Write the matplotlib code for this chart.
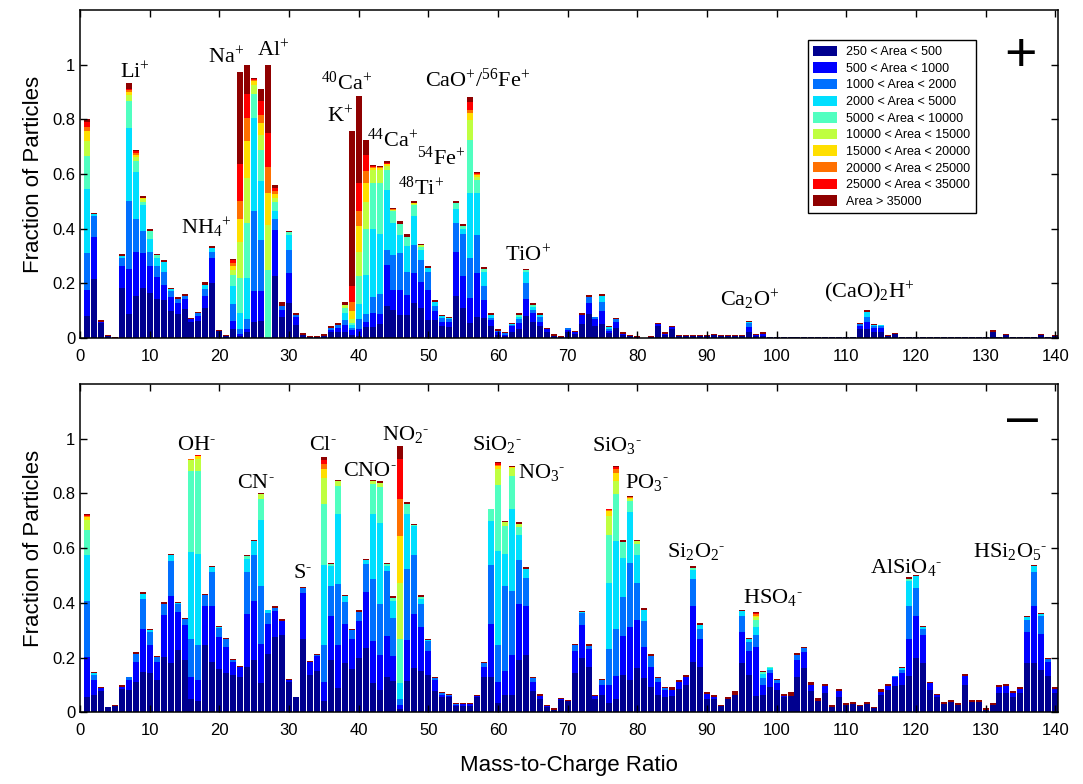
import numpy as np
import matplotlib
matplotlib.use('Agg')
import matplotlib.pyplot as plt
from matplotlib.patches import Patch

plt.rcParams['mathtext.fontset'] = 'custom'
plt.rcParams['mathtext.rm'] = 'Liberation Serif'
plt.rcParams['mathtext.it'] = 'Liberation Serif:italic'
plt.rcParams['font.family'] = ['Liberation Sans', 'DejaVu Sans']

area_bins = ['250 < Area < 500', '500 < Area < 1000', '1000 < Area < 2000',
             '2000 < Area < 5000', '5000 < Area < 10000', '10000 < Area < 15000',
             '15000 < Area < 20000', '20000 < Area < 25000', '25000 < Area < 35000',
             'Area > 35000']
bin_colors = ['#00008F', '#0000FF', '#0070FF', '#00DFFF', '#50FFC0',
              '#BFFF40', '#FFDF00', '#FF7000', '#FF0000', '#8F0000']

mz = np.arange(1, 141)

# cumulative top of each area bin, lowest bin first; the last number is the
# top of the bar (thin Area > 35000 cap), bins not listed are empty
pos_cum = [
    [0.082, 0.176, 0.310, 0.546, 0.667, 0.722, 0.756, 0.774, 0.792, 0.801],  # 1
    [0.215, 0.371, 0.448, 0.455, 0.459],
    [0.054, 0.060, 0.064],
    [0.006, 0.009],
    [0.001, 0.002],
    [0.184, 0.265, 0.292, 0.300, 0.306],
    [0.088, 0.252, 0.503, 0.770, 0.868, 0.890, 0.902, 0.908, 0.912, 0.933],
    [0.155, 0.316, 0.437, 0.606, 0.648, 0.661, 0.670, 0.676, 0.685, 0.689],
    [0.184, 0.310, 0.390, 0.485, 0.497, 0.509, 0.514, 0.521],
    [0.166, 0.265, 0.316, 0.363, 0.392, 0.399],  # 10
    [0.143, 0.222, 0.265, 0.292, 0.302, 0.308],
    [0.137, 0.194, 0.241, 0.278, 0.284],
    [0.099, 0.151, 0.173, 0.178, 0.182],
    [0.087, 0.129, 0.142, 0.149],
    [0.105, 0.142, 0.152, 0.160],
    [0.060, 0.068, 0.074],
    [0.062, 0.082, 0.090, 0.096],
    [0.111, 0.155, 0.178, 0.192, 0.204],
    [0.200, 0.294, 0.316, 0.328, 0.337],
    [0.026, 0.029],  # 20
    [0.008, 0.011],
    [0.033, 0.062, 0.125, 0.190, 0.231, 0.249, 0.264, 0.274, 0.286, 0.288],
    [0.007, 0.015, 0.033, 0.090, 0.219, 0.353, 0.436, 0.502, 0.636, 0.972],
    [0.023, 0.033, 0.068, 0.219, 0.420, 0.587, 0.722, 0.807, 0.894, 0.998],
    [0.057, 0.170, 0.463, 0.807, 0.893, 0.927, 0.941, 0.945, 0.948, 0.951],
    [0.062, 0.170, 0.359, 0.575, 0.689, 0.744, 0.786, 0.817, 0.866, 0.911],
    [0.0, 0.0, 0.0, 0.0, 0.249, 0.414, 0.531, 0.625, 0.751, 0.998],
    [0.228, 0.396, 0.435, 0.466, 0.499, 0.514, 0.528, 0.539, 0.549, 0.560],
    [0.076, 0.103, 0.118, 0.133],
    [0.129, 0.239, 0.322, 0.377, 0.387, 0.392],  # 30
    [0.048, 0.078, 0.084, 0.090],
    [0.012, 0.017],
    [0.004, 0.007],
    [0.004, 0.007],
    [0.008, 0.013],
    [0.020, 0.030, 0.037, 0.045],
    [0.023, 0.036, 0.046, 0.054],
    [0.023, 0.048, 0.066, 0.090, 0.109, 0.121, 0.133],
    [0.011, 0.029, 0.035, 0.048, 0.056, 0.068, 0.100, 0.133, 0.190, 0.758],
    [0.007, 0.032, 0.068, 0.123, 0.228, 0.314, 0.408, 0.466, 0.569, 0.886],  # 40
    [0.040, 0.057, 0.087, 0.231, 0.398, 0.499, 0.566, 0.610, 0.670, 0.725],
    [0.039, 0.093, 0.150, 0.400, 0.566, 0.615, 0.622, 0.625, 0.630, 0.634],
    [0.050, 0.087, 0.160, 0.380, 0.566, 0.615, 0.622, 0.624, 0.626, 0.630],
    [0.117, 0.267, 0.322, 0.542, 0.615, 0.630, 0.636, 0.638, 0.641, 0.646],
    [0.103, 0.176, 0.304, 0.420, 0.463, 0.467, 0.469, 0.471, 0.475],
    [0.084, 0.176, 0.310, 0.377, 0.418, 0.429],
    [0.084, 0.158, 0.243, 0.335, 0.371, 0.381],
    [0.127, 0.239, 0.340, 0.447, 0.487, 0.490, 0.494, 0.502],
    [0.109, 0.206, 0.286, 0.322, 0.334, 0.340, 0.344],
    [0.066, 0.176, 0.243, 0.255, 0.264],  # 50
    [0.066, 0.100, 0.117, 0.130, 0.139],
    [0.042, 0.060, 0.072, 0.080, 0.084],
    [0.039, 0.060, 0.068, 0.074, 0.078],
    [0.154, 0.316, 0.420, 0.473, 0.493, 0.502],
    [0.109, 0.225, 0.380, 0.400, 0.408, 0.411, 0.418],
    [0.054, 0.145, 0.292, 0.530, 0.725, 0.798, 0.823, 0.835, 0.862, 0.882],
    [0.078, 0.239, 0.377, 0.530, 0.579, 0.590, 0.597, 0.600, 0.603, 0.609],
    [0.072, 0.139, 0.190, 0.243, 0.252, 0.261],
    [0.044, 0.066, 0.072, 0.084, 0.093],
    [0.011, 0.020, 0.026, 0.032],  # 60
    [0.008, 0.011, 0.018, 0.020],
    [0.023, 0.042, 0.046, 0.050, 0.054],
    [0.032, 0.054, 0.068, 0.078, 0.085, 0.093],
    [0.081, 0.142, 0.200, 0.243, 0.248, 0.253],
    [0.057, 0.093, 0.103, 0.114, 0.122, 0.127],
    [0.044, 0.060, 0.078, 0.085, 0.090],
    [0.020, 0.033, 0.038],
    [0.008, 0.013],
    [0.004, 0.007],
    [0.020, 0.030, 0.035, 0.038],  # 70
    [0.015, 0.022, 0.026],
    [0.050, 0.084, 0.090],
    [0.087, 0.127, 0.151, 0.158],
    [0.044, 0.070, 0.075, 0.078],
    [0.050, 0.099, 0.133, 0.155, 0.161],
    [0.017, 0.026, 0.033, 0.039, 0.044],
    [0.035, 0.057, 0.068, 0.074],
    [0.011, 0.015, 0.020],
    [0.007, 0.011],
    [0.004, 0.007],  # 80
    [0.001],
    [0.004, 0.007],
    [0.042, 0.050, 0.054],
    [0.011, 0.016, 0.020],
    [0.033, 0.040, 0.044],
    [0.006, 0.009],
    [0.006, 0.009],
    [0.006, 0.009],
    [0.008, 0.011],
    [0.006, 0.009],  # 90
    [0.009, 0.013],
    [0.006, 0.009],
    [0.006, 0.009],
    [0.006, 0.009],
    [0.006, 0.009],
    [0.020, 0.039, 0.054, 0.058, 0.062],
    [0.007, 0.011, 0.013],
    [0.007, 0.016, 0.020],
    [0.003, 0.005],
    [0.003, 0.005],  # 100
    [0.003, 0.005],
    [0.003, 0.005],
    [0.003, 0.005],
    [0.003, 0.005],
    [0.003, 0.005],
    [0.003, 0.005],
    [0.003, 0.005],
    [0.003, 0.005],
    [0.003, 0.005],
    [0.003, 0.005],  # 110
    [0.003, 0.005],
    [0.033, 0.045, 0.052, 0.056],
    [0.033, 0.060, 0.076, 0.096, 0.103],
    [0.020, 0.038, 0.045, 0.047, 0.050],
    [0.022, 0.038, 0.044, 0.046, 0.048],
    [0.008, 0.011],
    [0.013, 0.017],
    [0.003, 0.005],
    [0.003, 0.005],
    [0.003, 0.005],  # 120
    [0.003, 0.005],
    [0.003, 0.005],
    [0.003, 0.005],
    [0.003, 0.005],
    [0.003, 0.005],
    [0.003, 0.005],
    [0.003, 0.005],
    [0.003, 0.005],
    [0.003, 0.005],
    [0.003, 0.005],  # 130
    [0.022, 0.029],
    [0.003, 0.005],
    [0.009, 0.013],
    [0.003, 0.005],
    [0.003, 0.005],
    [0.003, 0.005],
    [0.003, 0.005],
    [0.009, 0.013],
    [0.003, 0.005],
    [0.007, 0.011],  # 140
]

neg_cum = [
    [0.054, 0.201, 0.407, 0.576, 0.667, 0.704, 0.713, 0.718, 0.722, 0.726],  # 1
    [0.063, 0.118, 0.137, 0.142, 0.146],
    [0.078, 0.088, 0.091],
    [0.018, 0.021],
    [0.024, 0.027],
    [0.084, 0.094, 0.098],
    [0.082, 0.118, 0.127, 0.130],
    [0.112, 0.183, 0.213, 0.220],
    [0.146, 0.304, 0.413, 0.432, 0.438],
    [0.143, 0.246, 0.293, 0.301, 0.305],  # 10
    [0.118, 0.183, 0.201, 0.206],
    [0.201, 0.354, 0.396, 0.401],
    [0.179, 0.426, 0.554, 0.573, 0.578],
    [0.228, 0.366, 0.395, 0.398, 0.401],
    [0.191, 0.317, 0.341, 0.346],
    [0.048, 0.127, 0.268, 0.584, 0.880, 0.921, 0.923, 0.924, 0.925, 0.927],
    [0.041, 0.118, 0.246, 0.578, 0.880, 0.927, 0.935, 0.937, 0.939, 0.941],
    [0.246, 0.389, 0.429, 0.432],
    [0.185, 0.389, 0.511, 0.529, 0.533],
    [0.157, 0.274, 0.307, 0.312, 0.316],  # 20
    [0.143, 0.240, 0.267, 0.271],
    [0.137, 0.182, 0.191, 0.195],
    [0.130, 0.165, 0.170],
    [0.167, 0.359, 0.511, 0.560, 0.570, 0.576],
    [0.191, 0.407, 0.576, 0.624, 0.630],
    [0.106, 0.250, 0.462, 0.704, 0.780, 0.798, 0.801],
    [0.213, 0.323, 0.362, 0.372, 0.374],
    [0.274, 0.371, 0.380, 0.387],
    [0.283, 0.332, 0.335, 0.340],
    [0.109, 0.118, 0.122],  # 30
    [0.054, 0.057],
    [0.267, 0.435, 0.454, 0.457],
    [0.137, 0.185, 0.189],
    [0.149, 0.204, 0.209, 0.213],
    [0.041, 0.112, 0.246, 0.537, 0.762, 0.854, 0.890, 0.907, 0.920, 0.932],
    [0.191, 0.350, 0.463, 0.533, 0.543, 0.545],
    [0.090, 0.246, 0.468, 0.726, 0.826, 0.844, 0.850],
    [0.179, 0.323, 0.401, 0.426, 0.429],
    [0.157, 0.267, 0.299, 0.302, 0.305],
    [0.200, 0.332, 0.368, 0.374],  # 40
    [0.234, 0.438, 0.541, 0.557, 0.561],
    [0.106, 0.259, 0.487, 0.726, 0.834, 0.844, 0.850],
    [0.082, 0.210, 0.396, 0.691, 0.823, 0.838, 0.844],
    [0.127, 0.277, 0.517, 0.533, 0.540, 0.545],
    [0.116, 0.204, 0.344, 0.405, 0.418, 0.423],
    [0.011, 0.027, 0.047, 0.108, 0.268, 0.472, 0.643, 0.780, 0.926, 0.972],
    [0.115, 0.265, 0.523, 0.725, 0.762, 0.767],
    [0.161, 0.360, 0.575, 0.681, 0.684, 0.687],
    [0.149, 0.311, 0.396, 0.413, 0.420, 0.422, 0.427],
    [0.136, 0.222, 0.259, 0.264, 0.268],  # 50
    [0.078, 0.118, 0.124, 0.128],
    [0.055, 0.063, 0.069, 0.073],
    [0.055, 0.060, 0.063, 0.066],
    [0.023, 0.027, 0.030, 0.033],
    [0.023, 0.030, 0.033],
    [0.023, 0.030, 0.033],
    [0.055, 0.060, 0.063],
    [0.127, 0.165, 0.179, 0.183],
    [0.130, 0.323, 0.537, 0.698, 0.741, 0.744],
    [0.033, 0.109, 0.246, 0.590, 0.832, 0.889, 0.899, 0.902, 0.909, 0.913],  # 60
    [0.063, 0.149, 0.462, 0.579, 0.679, 0.695, 0.700],
    [0.063, 0.210, 0.444, 0.744, 0.862, 0.893, 0.896, 0.901],
    [0.191, 0.396, 0.557, 0.649, 0.677, 0.689, 0.695],
    [0.210, 0.387, 0.490, 0.524, 0.530],
    [0.078, 0.112, 0.124, 0.128],
    [0.049, 0.058, 0.066],
    [0.020, 0.024, 0.027],
    [0.010, 0.015],
    [0.045, 0.048, 0.051],
    [0.040, 0.045],  # 70
    [0.145, 0.222, 0.246, 0.250],
    [0.200, 0.317, 0.362, 0.367, 0.371],
    [0.167, 0.230, 0.243, 0.250],
    [0.048, 0.058, 0.063],
    [0.063, 0.100, 0.117, 0.122],
    [0.033, 0.100, 0.230, 0.472, 0.649, 0.716, 0.734, 0.739, 0.742, 0.744],
    [0.048, 0.133, 0.304, 0.624, 0.799, 0.844, 0.874, 0.887, 0.895, 0.901],
    [0.137, 0.280, 0.420, 0.563, 0.622, 0.630],
    [0.118, 0.313, 0.545, 0.732, 0.771, 0.780, 0.782, 0.785, 0.789],
    [0.163, 0.338, 0.472, 0.576, 0.616, 0.624, 0.630],  # 80
    [0.124, 0.240, 0.332, 0.374, 0.380],
    [0.094, 0.165, 0.206, 0.213],
    [0.063, 0.112, 0.125, 0.130],
    [0.054, 0.082, 0.090, 0.094],
    [0.060, 0.082, 0.091],
    [0.084, 0.112, 0.118],
    [0.100, 0.127, 0.137],
    [0.185, 0.387, 0.487, 0.521, 0.528, 0.533],
    [0.167, 0.267, 0.304, 0.320, 0.326],
    [0.048, 0.065, 0.073],  # 90
    [0.048, 0.057, 0.063],
    [0.022, 0.027],
    [0.048, 0.057],
    [0.063, 0.076],
    [0.179, 0.295, 0.352, 0.370, 0.374],
    [0.137, 0.222, 0.255, 0.266, 0.271],
    [0.061, 0.240, 0.283, 0.313, 0.338, 0.348, 0.353, 0.358, 0.362, 0.365],
    [0.063, 0.100, 0.124, 0.140, 0.146, 0.149],
    [0.094, 0.143, 0.155, 0.161, 0.164, 0.167],
    [0.082, 0.106, 0.117, 0.122],  # 100
    [0.054, 0.061, 0.067],
    [0.060, 0.073],
    [0.127, 0.191, 0.210, 0.215],
    [0.163, 0.220, 0.236, 0.240],
    [0.076, 0.100, 0.109],
    [0.041, 0.051],
    [0.070, 0.096, 0.102],
    [0.021, 0.027],
    [0.054, 0.078, 0.084],
    [0.028, 0.033],  # 110
    [0.032, 0.037],
    [0.022, 0.027],
    [0.032, 0.037],
    [0.014, 0.018],
    [0.063, 0.075, 0.084],
    [0.082, 0.097, 0.102],
    [0.096, 0.127, 0.131, 0.134],
    [0.100, 0.143, 0.153, 0.162, 0.165],
    [0.133, 0.267, 0.387, 0.478, 0.488, 0.493],
    [0.200, 0.352, 0.454, 0.496, 0.502],  # 120
    [0.179, 0.283, 0.304, 0.312, 0.316],
    [0.082, 0.106, 0.110],
    [0.054, 0.062, 0.066],
    [0.032, 0.037],
    [0.037, 0.043],
    [0.028, 0.033],
    [0.100, 0.133, 0.139],
    [0.037, 0.043],
    [0.037, 0.043],
    [0.010, 0.015],  # 130
    [0.028, 0.033],
    [0.070, 0.093, 0.098],
    [0.070, 0.097, 0.102],
    [0.054, 0.072, 0.079],
    [0.070, 0.086, 0.091],
    [0.179, 0.293, 0.338, 0.348, 0.352],
    [0.179, 0.389, 0.511, 0.533, 0.537],
    [0.155, 0.285, 0.350, 0.358, 0.362],
    [0.133, 0.185, 0.196, 0.200],
    [0.070, 0.086, 0.091],  # 140
]

# ion labels (superscript charge follows the subscript, as in the original)
M = r'$^{\text{-}}$'
pos_ions = [r'Li$^{+}$', r'Na$^{+}$', r'Al$^{+}$', r'NH$_{4}$$^{+}$', r'$^{40}$Ca$^{+}$',
            r'K$^{+}$', r'$^{44}$Ca$^{+}$', r'$^{54}$Fe$^{+}$', r'$^{48}$Ti$^{+}$',
            r'CaO$^{+}$/$^{56}$Fe$^{+}$', r'TiO$^{+}$', r'Ca$_{2}$O$^{+}$',
            r'(CaO)$_{2}$H$^{+}$']
pos_ion_x = [7.9, 21.0, 27.7, 18.2, 38.2, 37.3, 44.9, 51.9, 48.9, 57.1, 64.3, 96.2, 113.3]
pos_ion_y = [0.951, 1.006, 1.030, 0.377, 0.908, 0.789, 0.701, 0.634, 0.524, 0.921,
             0.280, 0.115, 0.145]

neg_ions = ['OH' + M, 'CN' + M, 'S' + M, 'Cl' + M, 'CNO' + M, r'NO$_{2}$' + M,
            r'SiO$_{2}$' + M, r'NO$_{3}$' + M, r'SiO$_{3}$' + M, r'PO$_{3}$' + M,
            r'Si$_{2}$O$_{2}$' + M, r'HSO$_{4}$' + M, r'AlSiO$_{4}$' + M,
            r'HSi$_{2}$O$_{5}$' + M]
neg_ion_x = [16.7, 25.3, 32.0, 34.9, 41.6, 46.8, 59.9, 66.3, 77.1, 81.4, 88.4, 99.5, 118.6, 133.5]
neg_ion_y = [0.957, 0.820, 0.490, 0.957, 0.862, 0.996, 0.957, 0.856, 0.954, 0.820,
             0.569, 0.399, 0.509, 0.569]


def bin_heights(cum_rows):
    # turn cumulative tops into the height of each of the 10 area bins
    out = np.zeros((len(cum_rows), 10))
    for i, c in enumerate(cum_rows):
        tops = np.zeros(10)
        n = len(c)
        if n > 1:
            tops[:n - 1] = c[:n - 1]
            tops[n - 1:9] = c[n - 2]
        tops[9] = c[-1]
        out[i] = np.diff(np.concatenate([[0.0], tops]))
    return out


def draw_panel(ax, cum_rows, names, xs, ys):
    h = bin_heights(cum_rows)
    bottom = np.zeros(len(mz))
    for j in range(10):
        ax.bar(mz, h[:, j], bottom=bottom, width=0.86, color=bin_colors[j], linewidth=0)
        bottom += h[:, j]
    for name, x, y in zip(names, xs, ys):
        ax.text(x, y, name, ha='center', va='baseline', fontsize=16,
                family='Liberation Serif')
    ax.set_xlim(0, 140.4)
    ax.set_ylim(0, 1.2)
    ax.set_xticks(np.arange(0, 141, 10))
    ax.set_yticks([0, 0.2, 0.4, 0.6, 0.8, 1.0])
    ax.set_yticklabels(['0', '0.2', '0.4', '0.6', '0.8', '1'])
    ax.tick_params(direction='in', length=5, width=1, top=True, right=True, labelsize=12)
    ax.tick_params(axis='x', pad=8)
    for s in ax.spines.values():
        s.set_linewidth(1.1)
    ax.set_ylabel('Fraction of Particles', fontsize=16, labelpad=6)


fig = plt.figure(figsize=(10.83, 7.84), dpi=100)
ax1 = fig.add_axes([0.0739, 0.569, 0.903, 0.418])
ax2 = fig.add_axes([0.0739, 0.0915, 0.903, 0.419])

draw_panel(ax1, pos_cum, pos_ions, pos_ion_x, pos_ion_y)
draw_panel(ax2, neg_cum, neg_ions, neg_ion_x, neg_ion_y)

ax1.text(135.0, 1.03, '+', ha='center', va='center', fontsize=40)
ax2.text(135.3, 1.067, '\u2013', ha='center', va='center', fontsize=40)
ax2.set_xlabel('Mass-to-Charge Ratio', fontsize=16, labelpad=12)

handles = [Patch(facecolor=c, edgecolor='none') for c in bin_colors]
leg = ax1.legend(handles, area_bins, loc='upper left', bbox_to_anchor=(0.744, 0.909),
                 borderaxespad=0, fontsize=9, frameon=True, fancybox=False,
                 framealpha=1, edgecolor='black', handlelength=1.9, handleheight=0.9,
                 labelspacing=0.33, handletextpad=0.75, borderpad=0.45)
leg.get_frame().set_linewidth(1.0)

fig.savefig('out.png', dpi=100)
